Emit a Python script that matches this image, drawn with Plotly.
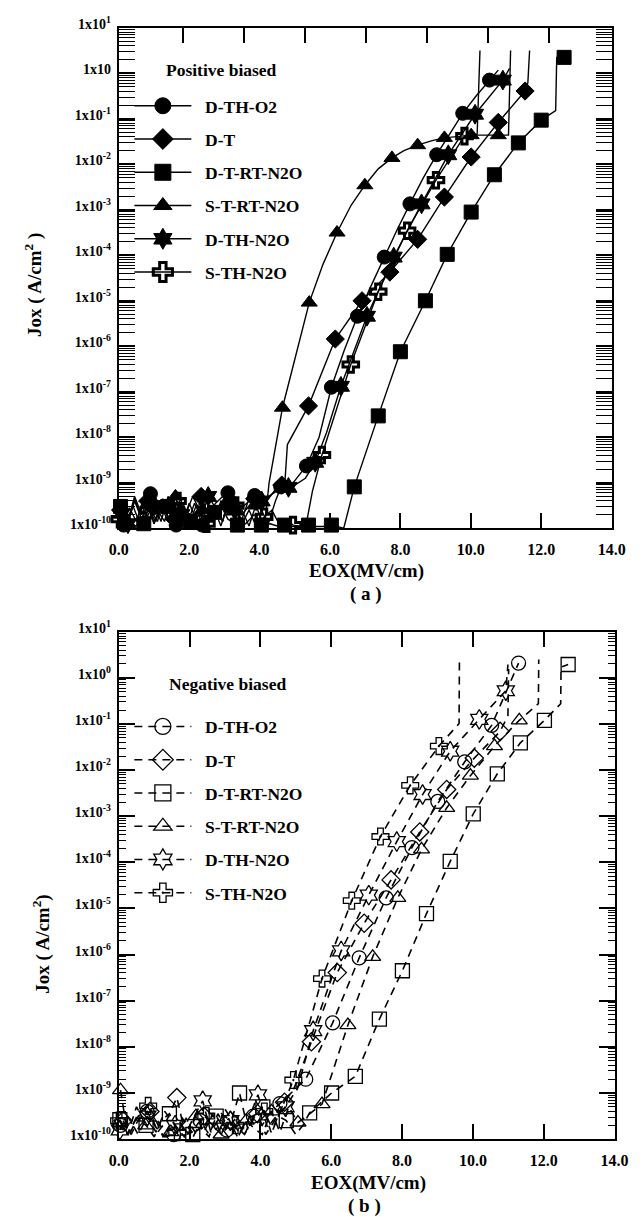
import plotly.graph_objects as go

W, H = 642, 1217
FONT = "Liberation Serif"

# ---------------- axis tick labels ----------------
x_tick_vals = [0, 2, 4, 6, 8, 10, 12, 14]
x_tick_text = ["0.0", "2.0", "4.0", "6.0", "8.0", "10.0", "12.0", "14.0"]
y_tick_exp = [1, 0, -1, -2, -3, -4, -5, -6, -7, -8, -9, -10]
y_tick_text_a = ["1x10<sup>1</sup>", "1x10", "1x10<sup>-1</sup>", "1x10<sup>-2</sup>", "1x10<sup>-3</sup>",
                 "1x10<sup>-4</sup>", "1x10<sup>-5</sup>", "1x10<sup>-6</sup>", "1x10<sup>-7</sup>",
                 "1x10<sup>-8</sup>", "1x10<sup>-9</sup>", "1x10<sup>-10</sup>"]
y_tick_text_b = ["1x10<sup>1</sup>", "1x10<sup>0</sup>", "1x10<sup>-1</sup>", "1x10<sup>-2</sup>", "1x10<sup>-3</sup>",
                 "1x10<sup>-4</sup>", "1x10<sup>-5</sup>", "1x10<sup>-6</sup>", "1x10<sup>-7</sup>",
                 "1x10<sup>-8</sup>", "1x10<sup>-9</sup>", "1x10<sup>-10</sup>"]
series_names = ["D-TH-O2", "D-T", "D-T-RT-N2O", "S-T-RT-N2O", "D-TH-N2O", "S-TH-N2O"]

# ================= panel (a): positive biased  (E in MV/cm, log10 J) =================
a_circ_mark_E = [0.14, 0.90, 1.63, 2.37, 3.10, 3.86, 4.60, 5.33, 6.04, 6.78, 7.54, 8.27, 9.03, 9.77, 10.53]
a_circ_mark_lg = [-9.93, -9.24, -9.93, -9.93, -9.22, -9.28, -9.09, -8.63, -6.90, -5.34, -4.04, -2.87, -1.79, -0.88, -0.15]
a_circ_curve_E = [0.30, 0.50, 0.70, 1.10, 1.30, 1.45, 1.80, 2.00, 2.20, 2.55, 2.75, 2.95, 3.30, 3.50, 3.70,
                  4.05, 4.25, 4.45, 4.85, 5.10, 5.69, 6.40, 7.15, 7.90, 8.65, 9.40, 10.15, 10.78]
a_circ_curve_lg = [-9.55, -9.85, -9.35, -9.60, -9.85, -9.40, -9.60, -9.90, -9.50, -9.70, -9.45, -9.30, -9.35, -9.55, -9.40,
                   -9.50, -9.35, -9.15, -9.10, -8.85, -8.00, -6.10, -4.70, -3.45, -2.30, -1.32, -0.50, 0.07]

a_diam_mark_E = [0.05, 0.82, 1.58, 2.34, 3.10, 3.86, 4.63, 5.39, 6.15, 6.91, 7.70, 8.49, 9.25, 10.01, 10.78, 11.54]
a_diam_mark_lg = [-9.60, -9.40, -9.80, -9.30, -9.50, -9.35, -9.05, -7.31, -5.84, -5.00, -4.37, -3.65, -2.72, -1.84, -1.08, -0.39]
a_diam_curve_E = [0.25, 0.45, 0.65, 1.00, 1.20, 1.40, 1.75, 1.95, 2.15, 2.50, 2.70, 2.90, 3.30, 3.50, 3.70,
                  4.05, 4.25, 4.45, 4.71, 4.79, 11.62, 11.67]
a_diam_curve_lg = [-9.85, -9.30, -9.70, -9.90, -9.45, -9.60, -9.35, -9.75, -9.90, -9.60, -9.85, -9.40, -9.30, -9.70, -9.50,
                   -9.60, -9.90, -9.40, -9.09, -8.16, -0.21, 0.50]

a_sq_mark_E = [0.05, 0.71, 1.39, 2.04, 2.72, 3.37, 4.05, 4.71, 5.39, 6.04, 6.69, 7.37, 8.00, 8.71, 9.33, 10.01,
               10.67, 11.35, 12.00, 12.65]
a_sq_mark_lg = [-9.52, -9.90, -9.52, -9.85, -9.65, -9.93, -9.93, -9.93, -9.93, -9.93, -9.09, -7.53, -6.12, -5.00,
                -3.98, -3.05, -2.23, -1.53, -1.03, 0.35]
a_sq_curve_E = [0.25, 0.45, 0.90, 1.10, 1.25, 1.60, 1.85, 2.25, 2.45, 2.90, 3.10, 3.60, 3.85, 4.30, 4.50, 4.90,
                5.15, 5.60, 5.80, 6.39, 12.41, 12.44]
a_sq_curve_lg = [-9.70, -9.95, -9.60, -9.85, -9.40, -9.70, -9.50, -9.60, -9.90, -9.50, -9.80, -9.90, -9.70, -9.90,
                 -9.95, -9.96, -9.96, -9.96, -9.96, -10.0, -0.82, 0.35]

a_tri_mark_E = [0.08, 0.84, 1.61, 2.37, 3.13, 3.89, 4.65, 5.41, 6.20, 6.99, 7.76, 8.49, 9.25, 10.01, 10.78]
a_tri_mark_lg = [-9.70, -9.45, -9.30, -9.60, -9.35, -9.50, -7.35, -5.04, -3.50, -2.46, -1.86, -1.58, -1.42, -1.36, -1.36]
a_tri_curve_E = [0.25, 0.45, 0.65, 1.00, 1.20, 1.40, 1.80, 2.00, 2.20, 2.55, 2.75, 2.95, 3.30, 3.50, 3.70,
                 4.14, 4.27, 5.80, 6.60, 7.37, 8.10, 8.90, 9.60, 11.07, 11.13]
a_tri_curve_lg = [-9.90, -9.40, -9.80, -9.90, -9.50, -9.85, -9.90, -9.45, -9.80, -9.90, -9.50, -9.85, -9.90, -9.60,
                  -9.95, -9.95, -9.00, -4.20, -2.90, -2.10, -1.70, -1.48, -1.39, -1.36, 0.50]

a_star_mark_E = [0.26, 1.02, 1.78, 2.54, 3.30, 4.06, 4.82, 5.58, 6.31, 7.05, 7.81, 8.60, 9.36, 10.12, 10.91]
a_star_mark_lg = [-9.90, -9.50, -9.70, -9.30, -9.60, -9.40, -9.10, -8.55, -6.88, -5.34, -4.04, -2.87, -1.79, -0.90, -0.15]
a_star_curve_E = [0.45, 0.65, 0.85, 1.20, 1.40, 1.60, 1.95, 2.15, 2.35, 2.75, 2.95, 3.10, 3.50, 3.70, 3.90,
                  4.25, 4.45, 4.62, 5.00, 5.30, 5.90, 11.10]
a_star_curve_lg = [-9.35, -9.80, -9.40, -9.85, -9.30, -9.55, -9.90, -9.45, -9.75, -9.55, -9.85, -9.40, -9.80, -9.35,
                   -9.60, -9.30, -9.20, -9.15, -9.05, -8.90, -7.90, 0.11]

a_cross_mark_E = [0.03, 0.85, 1.67, 2.49, 3.31, 4.13, 4.95, 5.77, 6.59, 7.37, 8.19, 9.01, 9.82]
a_cross_mark_lg = [-9.80, -9.60, -9.40, -9.90, -9.50, -9.75, -9.93, -8.39, -6.40, -4.80, -3.46, -2.35, -1.38]
a_cross_curve_E = [0.20, 0.40, 0.60, 1.05, 1.25, 1.45, 1.90, 2.10, 2.30, 2.70, 2.90, 3.10, 3.50, 3.70, 3.90,
                   4.35, 4.55, 4.75, 5.31, 5.50, 10.18, 10.26]
a_cross_curve_lg = [-9.95, -9.50, -9.90, -9.85, -9.35, -9.90, -9.70, -9.30, -9.60, -9.55, -9.95, -9.45, -9.90, -9.60,
                    -9.95, -9.60, -9.90, -9.80, -9.97, -9.19, -1.34, 0.50]

# ================= panel (b): negative biased =================
b_circ_mark_E = [0.05, 0.80, 1.55, 2.30, 3.05, 3.80, 4.55, 5.28, 6.04, 6.79, 7.55, 8.28, 9.01, 9.77, 10.53, 11.29]
b_circ_mark_lg = [-9.70, -9.40, -9.90, -9.60, -9.80, -9.50, -9.23, -8.70, -7.48, -6.07, -4.77, -3.68, -2.68, -1.82, -1.03, 0.32]
b_circ_curve_E = [0.30, 0.55, 1.05, 1.30, 1.80, 2.05, 2.55, 2.80, 3.30, 3.55, 4.05, 4.30]
b_circ_curve_lg = [-9.90, -9.50, -9.75, -9.95, -9.55, -9.85, -9.90, -9.45, -9.55, -9.90, -9.70, -9.40]

b_diam_mark_E = [0.12, 0.88, 1.64, 2.40, 3.16, 3.92, 4.68, 5.44, 6.17, 6.93, 7.69, 8.50, 9.26, 10.04, 10.77]
b_diam_mark_lg = [-9.60, -9.40, -9.10, -9.50, -9.60, -9.45, -9.20, -7.89, -6.39, -5.32, -4.38, -3.34, -2.42, -1.74, -1.16]
b_diam_curve_E = [0.35, 0.60, 1.10, 1.35, 1.85, 2.10, 2.65, 2.90, 3.40, 3.65, 4.15, 4.40, 4.95, 10.99, 11.01]
b_diam_curve_lg = [-9.90, -9.50, -9.85, -9.60, -9.80, -9.95, -9.70, -9.90, -9.85, -9.55, -9.90, -9.60, -8.90, -0.82, 0.19]

b_sq_mark_E = [0.03, 0.77, 1.43, 2.09, 2.75, 3.41, 4.07, 4.73, 5.39, 6.01, 6.68, 7.36, 8.01, 8.69, 9.36, 10.01,
               10.69, 11.34, 12.02, 12.69]
b_sq_mark_lg = [-9.58, -9.70, -9.45, -9.90, -9.50, -9.00, -9.30, -9.60, -9.43, -9.00, -8.64, -7.40, -6.35, -5.11,
                -3.98, -2.95, -2.08, -1.41, -0.92, 0.29]
b_sq_curve_E = [0.25, 0.50, 1.00, 1.20, 1.65, 1.90, 2.30, 2.55, 3.00, 3.20, 3.65, 3.85, 4.30, 4.50, 5.00, 5.20,
                12.48, 12.49]
b_sq_curve_lg = [-9.90, -9.55, -9.95, -9.60, -9.80, -9.60, -9.75, -9.95, -9.80, -9.55, -9.80, -9.50, -9.85, -9.50,
                 -9.90, -9.70, -0.56, 0.23]

b_tri_mark_E = [0.05, 0.76, 1.47, 2.18, 2.89, 3.60, 4.31, 5.06, 5.74, 6.47, 7.17, 7.88, 8.55, 9.26, 9.93, 10.61, 11.31]
b_tri_mark_lg = [-8.94, -9.70, -9.85, -9.50, -9.90, -9.60, -9.40, -9.64, -9.24, -7.53, -6.05, -4.77, -3.72, -2.82,
                 -2.12, -1.48, -0.92]
b_tri_curve_E = [0.25, 0.50, 1.00, 1.25, 1.70, 1.95, 2.40, 2.65, 3.10, 3.35, 3.80, 4.05, 4.55, 4.80, 5.40, 11.85, 11.86]
b_tri_curve_lg = [-9.90, -9.30, -9.50, -9.95, -9.60, -9.90, -9.85, -9.45, -9.55, -9.95, -9.75, -9.90, -9.85, -9.30,
                  -9.45, -0.56, 0.40]

b_star_mark_E = [0.03, 0.81, 1.59, 2.37, 3.15, 3.93, 4.71, 5.49, 6.28, 7.06, 7.85, 8.58, 9.36, 10.18, 10.93]
b_star_mark_lg = [-9.80, -9.50, -9.70, -9.17, -9.60, -9.04, -9.30, -7.65, -5.92, -4.71, -3.55, -2.53, -1.59, -0.90, -0.28]
b_star_curve_E = [0.25, 0.55, 1.05, 1.30, 1.85, 2.10, 2.60, 2.90, 3.40, 3.65, 4.20, 4.45, 5.05, 10.99]
b_star_curve_lg = [-9.50, -9.90, -9.85, -9.40, -9.95, -9.55, -9.85, -9.45, -9.90, -9.60, -9.75, -9.50, -8.90, 0.29]

b_cross_mark_E = [0.01, 0.83, 1.65, 2.47, 3.29, 4.11, 4.93, 5.74, 6.58, 7.39, 8.23, 9.04]
b_cross_mark_lg = [-9.60, -9.28, -9.85, -9.50, -9.70, -9.40, -8.72, -6.52, -4.83, -3.44, -2.33, -1.48]
b_cross_curve_E = [0.25, 0.55, 1.10, 1.35, 1.90, 2.20, 2.75, 3.00, 3.55, 3.80, 4.35, 4.60, 9.61, 9.62]
b_cross_curve_lg = [-9.90, -9.45, -9.60, -9.95, -9.55, -9.90, -9.80, -9.35, -9.90, -9.55, -9.80, -9.35, -0.99, 0.40]


def merged(curve_E, curve_lg, mark_E, mark_lg):
    pts = [(e, l, True) for e, l in zip(mark_E, mark_lg)] + \
          [(e, l, False) for e, l in zip(curve_E, curve_lg)]
    pts.sort(key=lambda p: p[0])
    return [p[0] for p in pts], [10 ** p[1] for p in pts], [p[2] for p in pts]


CLEAR = "rgba(0,0,0,0)"


def add_series(fig, name, data, symbol, size, leg_size, xa, ya, legend, dash, lw, mlw):
    x, y, m = merged(*data)
    col = ["black" if k else CLEAR for k in m]
    fig.add_trace(go.Scatter(
        x=x, y=y, mode="lines+markers", showlegend=False,
        xaxis=xa, yaxis=ya, cliponaxis=False, hoverinfo="skip",
        line=dict(color="black", width=lw, dash=dash),
        marker=dict(symbol=symbol, size=[size if k else 0 for k in m], color=col, opacity=1,
                    line=dict(color=col, width=mlw)),
    ))
    # legend entry (no data of its own)
    fig.add_trace(go.Scatter(
        x=[None], y=[None], mode="lines+markers", name="\u00a0\u00a0" + name,
        xaxis=xa, yaxis=ya, legend=legend, legendgroup=legend + name, hoverinfo="skip",
        line=dict(color="black", width=lw, dash=dash),
        marker=dict(symbol=symbol, size=leg_size, color="black", opacity=1,
                    line=dict(color="black", width=mlw)),
    ))


fig = go.Figure()

a_sets = [
    (a_circ_curve_E, a_circ_curve_lg, a_circ_mark_E, a_circ_mark_lg, "circle", 14, 1),
    (a_diam_curve_E, a_diam_curve_lg, a_diam_mark_E, a_diam_mark_lg, "diamond", 14, 1),
    (a_sq_curve_E, a_sq_curve_lg, a_sq_mark_E, a_sq_mark_lg, "square", 14, 1),
    (a_tri_curve_E, a_tri_curve_lg, a_tri_mark_E, a_tri_mark_lg, "triangle-up", 14, 1),
    (a_star_curve_E, a_star_curve_lg, a_star_mark_E, a_star_mark_lg, "hexagram", 15, 1),
    (a_cross_curve_E, a_cross_curve_lg, a_cross_mark_E, a_cross_mark_lg, "cross-open", 13, 3),
]
for name, s in zip(series_names, a_sets):
    add_series(fig, name, s[:4], s[4], s[5], s[5] + 3, "x", "y", "legend", "solid", 1.4, s[6])

b_sets = [
    (b_circ_curve_E, b_circ_curve_lg, b_circ_mark_E, b_circ_mark_lg, "circle-open", 14),
    (b_diam_curve_E, b_diam_curve_lg, b_diam_mark_E, b_diam_mark_lg, "diamond-open", 14),
    (b_sq_curve_E, b_sq_curve_lg, b_sq_mark_E, b_sq_mark_lg, "square-open", 14),
    (b_tri_curve_E, b_tri_curve_lg, b_tri_mark_E, b_tri_mark_lg, "triangle-up-open", 14),
    (b_star_curve_E, b_star_curve_lg, b_star_mark_E, b_star_mark_lg, "hexagram-open", 15),
    (b_cross_curve_E, b_cross_curve_lg, b_cross_mark_E, b_cross_mark_lg, "cross-open-dot", 14),
]
for name, s in zip(series_names, b_sets):
    add_series(fig, name, s[:4], s[4], s[5], s[5] + 3, "x2", "y2", "legend2", "8px,6px", 1.6, 1.3)

# helper trace so the odd top-edge tick axis of panel (a) is drawn
fig.add_trace(go.Scatter(x=[None], y=[None], xaxis="x3", yaxis="y", showlegend=False, hoverinfo="skip"))


def px(v):
    return v / W


def py(v):
    return 1 - v / H


tick_font = dict(family=FONT, size=14, color="black", weight="bold")
xtick_font = dict(family=FONT, size=16, color="black", weight="bold")
minor_vals = [m * 10.0 ** k for k in range(-10, 1) for m in range(2, 10)]


def yax(dom, texts, anchor):
    return dict(type="log", range=[-10, 1], domain=dom, anchor=anchor,
                tickvals=[10.0 ** k for k in y_tick_exp], ticktext=texts,
                ticks="inside", ticklen=16, tickwidth=1.5, tickcolor="black",
                showline=True, linewidth=2, linecolor="black", mirror="allticks",
                showgrid=False, zeroline=False, tickfont=tick_font, ticklabelstandoff=3,
                ticklabelshift=-4,
                minor=dict(tickvals=minor_vals, ticks="inside", ticklen=7, tickwidth=1.2,
                           tickcolor="black", showgrid=False))


def xax(dom, anchor, mirror):
    return dict(range=[0, 14], domain=dom, anchor=anchor, tickvals=x_tick_vals, ticktext=x_tick_text,
                ticks="inside", ticklen=15, tickwidth=1.5, tickcolor="black",
                showline=True, linewidth=2, linecolor="black", mirror=mirror,
                showgrid=False, zeroline=False, tickfont=xtick_font, ticklabelstandoff=6)


title_font = dict(family=FONT, size=19, color="black", weight="bold")
leg_font = dict(family=FONT, size=17.5, color="black", weight="bold")


def ann(text, x, y, angle=0, font=title_font):
    return dict(text=text, x=px(x), y=py(y), xref="paper", yref="paper", xanchor="center", yanchor="middle",
                textangle=angle, showarrow=False, font=font)


def legend_box(top):
    return dict(x=px(124), y=py(top), xanchor="left", yanchor="top", bgcolor=CLEAR, borderwidth=0,
                font=leg_font, itemwidth=57, tracegroupgap=7.5, traceorder="grouped")


fig.update_layout(
    width=W, height=H, margin=dict(l=0, r=0, t=0, b=0),
    paper_bgcolor="white", plot_bgcolor="white",
    xaxis=xax([px(113), px(625)], "y", True),
    yaxis=yax([py(522), py(14)], y_tick_text_a, "x"),
    xaxis2=xax([px(113), px(628)], "y2", "allticks"),
    yaxis2=yax([py(1142), py(627)], y_tick_text_b, "x2"),
    xaxis3=dict(overlaying="x", side="top", anchor="y", range=[-0.06, 8.03], tickvals=[1, 2, 3, 4, 5, 6, 7],
                ticks="inside", ticklen=15, tickwidth=1.5, tickcolor="black", showticklabels=False,
                showline=False, showgrid=False, zeroline=False),
    legend=legend_box(75),
    legend2=legend_box(705),
    annotations=[
        ann("Positive biased", 220, 57, font=leg_font),
        ann("Negative biased", 226, 680, font=leg_font),
        ann("Jox ( A/cm<sup>2</sup> )", 25, 275, -90),
        ann("EOX(MV/cm)", 370, 565),
        ann("( a )", 370, 589),
        ann("Jox ( A/cm<sup>2</sup>)", 32, 944, -90),
        ann("EOX(MV/cm)", 372, 1187),
        ann("( b )", 368, 1210),
    ],
)

fig.write_html("out.html")
